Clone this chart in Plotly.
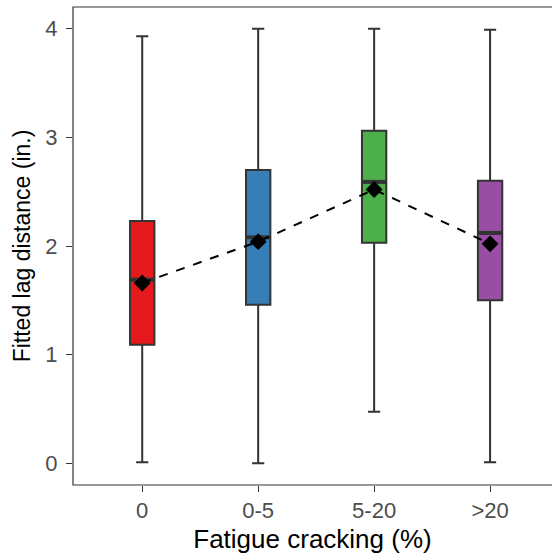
import plotly.graph_objects as go

# Fatigue cracking groups and summary statistics of fitted lag distance (in.)
categories = ["0", "0-5", "5-20", ">20"]
lower_whisker = [0.01, 0.00, 0.475, 0.01]
q1 = [1.09, 1.46, 2.03, 1.50]
median = [1.69, 2.08, 2.59, 2.12]
q3 = [2.23, 2.70, 3.06, 2.60]
upper_whisker = [3.93, 4.00, 4.00, 3.99]
means = [1.66, 2.04, 2.52, 2.02]
fill_colors = ["#E41A1C", "#377EB8", "#4DAF4A", "#984EA3"]

y_ticks = [0, 1, 2, 3, 4]

outline = "#333333"
box_width = 0.21
positions = list(range(len(categories)))

fig = go.Figure()

for i, cat in enumerate(categories):
    fig.add_trace(go.Box(
        x=[positions[i]],
        q1=[q1[i]], median=[median[i]], q3=[q3[i]],
        lowerfence=[lower_whisker[i]], upperfence=[upper_whisker[i]],
        width=box_width,
        whiskerwidth=0.5,
        fillcolor=fill_colors[i],
        line=dict(color=outline, width=2),
        name=cat,
        showlegend=False,
        hoverinfo="skip",
    ))

# thicker median bars drawn over each box
for i in positions:
    fig.add_trace(go.Scatter(
        x=[positions[i] - box_width / 2, positions[i] + box_width / 2],
        y=[median[i], median[i]],
        mode="lines",
        line=dict(color=outline, width=4),
        showlegend=False,
        hoverinfo="skip",
    ))

# group means joined by a dashed line
fig.add_trace(go.Scatter(
    x=positions, y=means,
    mode="lines+markers",
    line=dict(color="black", width=2, dash="dash"),
    marker=dict(symbol="diamond", size=13, color="black"),
    showlegend=False,
    hoverinfo="skip",
))

fig.update_layout(
    width=552, height=557,
    margin=dict(l=73, r=0, t=7, b=72),
    plot_bgcolor="white",
    paper_bgcolor="white",
    font=dict(family="Liberation Sans, Arial, sans-serif"),
    shapes=[dict(type="rect", xref="paper", yref="paper",
                 x0=0, x1=1.05, y0=0, y1=1,
                 line=dict(color=outline, width=1.2), layer="above")],
)

fig.update_xaxes(
    range=[-0.597, 3.534],
    tickmode="array", tickvals=positions, ticktext=categories,
    ticks="outside", ticklen=6, tickwidth=1.2, tickcolor=outline,
    tickfont=dict(size=22, color="#4D4D4D"),
    showgrid=False, zeroline=False,
    title=dict(text="Fatigue cracking (%)", font=dict(size=26, color="black"), standoff=7),
)
fig.update_yaxes(
    range=[-0.2, 4.2],
    tickmode="array", tickvals=y_ticks, ticktext=[str(v) for v in y_ticks],
    ticks="outside", ticklen=6, tickwidth=1.2, tickcolor=outline,
    ticklabelstandoff=4,
    tickfont=dict(size=22, color="#4D4D4D"),
    showgrid=False, zeroline=False,
    title=dict(text="Fitted lag distance (in.)", font=dict(size=23, color="black"), standoff=8),
)

fig.write_html("out.html")
